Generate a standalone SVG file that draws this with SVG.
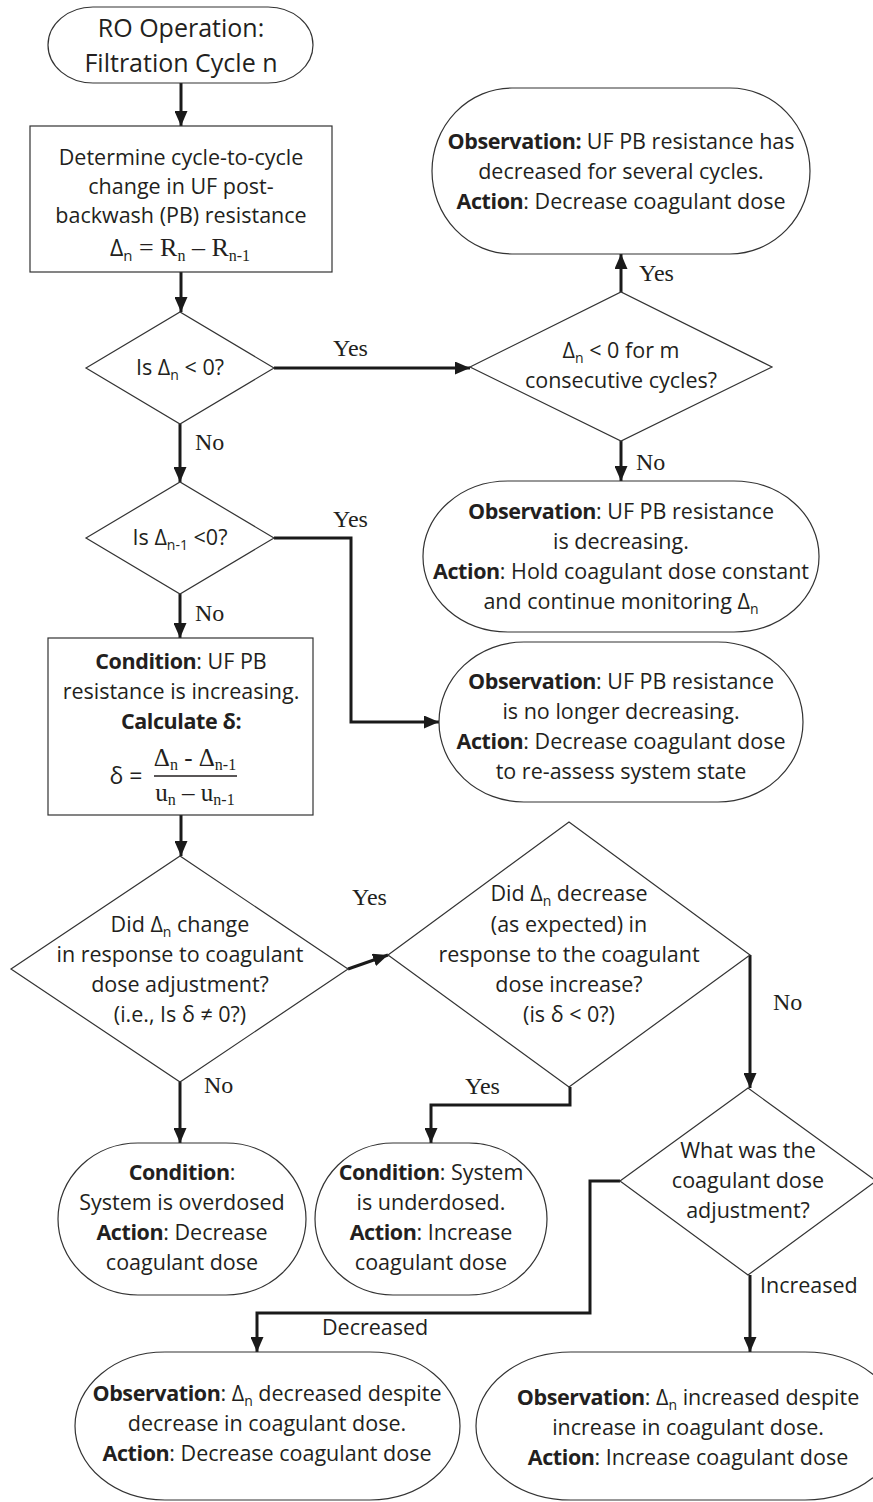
<svg xmlns="http://www.w3.org/2000/svg" width="873" height="1502" viewBox="0 0 873 1502">
<style>
.shape{fill:#fff;stroke:#333;stroke-width:1.2}
.conn{fill:none;stroke:#1a1a1a;stroke-width:3}
.t{font-family:"Open Sans",sans-serif;font-size:21.5px;fill:#231f20;text-anchor:middle}
.b{font-weight:bold;letter-spacing:-0.4px}
.s{font-family:"Liberation Serif",serif}
.lbl{font-family:"Liberation Serif",serif;font-size:24px;fill:#231f20}
.lbls{font-family:"Open Sans",sans-serif;font-size:21.5px;fill:#231f20}
.sub{font-size:14px}
</style>
<defs>
<marker id="ah" viewBox="0 0 15 13" markerWidth="15" markerHeight="13" refX="15" refY="6.5" orient="auto" markerUnits="userSpaceOnUse">
<path d="M0,0 L15,6.5 L0,13 z" fill="#1a1a1a"/>
</marker>
</defs>
<rect width="873" height="1502" fill="#fff"/>

<g id="connectors">
<path class="conn" d="M181,83 L181,126" marker-end="url(#ah)"/>
<path class="conn" d="M181,272 L181,312" marker-end="url(#ah)"/>
<path class="conn" d="M274,368 L470,368" marker-end="url(#ah)"/>
<path class="conn" d="M180,424 L180,482" marker-end="url(#ah)"/>
<path class="conn" d="M274,538 L351,538 L351,722 L439,722" marker-end="url(#ah)"/>
<path class="conn" d="M180,594 L180,638" marker-end="url(#ah)"/>
<path class="conn" d="M621,292 L621,254" marker-end="url(#ah)"/>
<path class="conn" d="M621,441 L621,481" marker-end="url(#ah)"/>
<path class="conn" d="M181,815 L181,856" marker-end="url(#ah)"/>
<path class="conn" d="M348,969 L388,955" marker-end="url(#ah)"/>
<path class="conn" d="M180,1082 L180,1143" marker-end="url(#ah)"/>
<path class="conn" d="M570,1087 L570,1105 L431,1105 L431,1143" marker-end="url(#ah)"/>
<path class="conn" d="M750,955 L750,1088" marker-end="url(#ah)"/>
<path class="conn" d="M620,1181 L590,1181 L590,1313 L257,1313 L257,1352" marker-end="url(#ah)"/>
<path class="conn" d="M750,1275 L750,1352" marker-end="url(#ah)"/>
</g>

<g id="labels">
<text class="lbl" x="333" y="356">Yes</text>
<text class="lbl" x="195" y="450">No</text>
<text class="lbl" x="333" y="527">Yes</text>
<text class="lbl" x="195" y="621">No</text>
<text class="lbl" x="639" y="281">Yes</text>
<text class="lbl" x="636" y="470">No</text>
<text class="lbl" x="352" y="905">Yes</text>
<text class="lbl" x="204" y="1093">No</text>
<text class="lbl" x="465" y="1094">Yes</text>
<text class="lbl" x="773" y="1010">No</text>
<text class="lbls" x="760" y="1293">Increased</text>
<text class="lbls" x="322" y="1335">Decreased</text>
</g>

<g id="start">
<rect class="shape" x="48" y="7" width="265" height="76" rx="45" ry="38"/>
<text class="t" x="181" y="37" style="font-size:25px">RO Operation:</text>
<text class="t" x="181" y="72" style="font-size:25px">Filtration Cycle n</text>
</g>

<g id="determine">
<rect class="shape" x="30" y="126" width="302" height="146"/>
<text class="t" x="181" y="165">Determine cycle-to-cycle</text>
<text class="t" x="181" y="194">change in UF post-</text>
<text class="t" x="181" y="223">backwash (PB) resistance</text>
<text class="t" x="180" y="256" style="font-size:23px">Δ<tspan style="font-size:15px" dy="5">n</tspan><tspan class="s" dy="-5" style="font-size:26px"> = R</tspan><tspan class="s" style="font-size:16px" dy="5">n</tspan><tspan class="s" dy="-5" style="font-size:26px"> – R</tspan><tspan class="s" style="font-size:16px" dy="5">n-1</tspan></text>
</g>

<g id="d1">
<polygon class="shape" points="86,368 180,312 274,368 180,424"/>
<text class="t" x="180" y="375">Is Δ<tspan class="sub" dy="5">n</tspan><tspan dy="-5"> &lt; 0?</tspan></text>
</g>

<g id="d2">
<polygon class="shape" points="470,367 621,292 772,367 621,441"/>
<text class="t" x="621" y="358">Δ<tspan class="sub" dy="5">n</tspan><tspan dy="-5"> &lt; 0 for m</tspan></text>
<text class="t" x="621" y="388">consecutive cycles?</text>
</g>

<g id="obs1">
<rect class="shape" x="432" y="88" width="378" height="166" rx="80" ry="83"/>
<text class="t" x="621" y="149"><tspan class="b">Observation:</tspan> UF PB resistance has</text>
<text class="t" x="621" y="179">decreased for several cycles.</text>
<text class="t" x="621" y="209"><tspan class="b">Action</tspan>: Decrease coagulant dose</text>
</g>

<g id="obs2">
<rect class="shape" x="423" y="481" width="396" height="151" rx="85" ry="75"/>
<text class="t" x="621" y="519"><tspan class="b">Observation</tspan>: UF PB resistance</text>
<text class="t" x="621" y="549">is decreasing.</text>
<text class="t" x="621" y="579"><tspan class="b">Action</tspan>: Hold coagulant dose constant</text>
<text class="t" x="621" y="609">and continue monitoring Δ<tspan class="sub" dy="5">n</tspan></text>
</g>

<g id="d3">
<polygon class="shape" points="86,538 180,482 274,538 180,594"/>
<text class="t" x="180" y="545">Is Δ<tspan class="sub" dy="5">n-1</tspan><tspan dy="-5"> &lt;0?</tspan></text>
</g>

<g id="obs3">
<rect class="shape" x="439" y="642" width="364" height="160" rx="85" ry="80"/>
<text class="t" x="621" y="689"><tspan class="b">Observation</tspan>: UF PB resistance</text>
<text class="t" x="621" y="719">is no longer decreasing.</text>
<text class="t" x="621" y="749"><tspan class="b">Action</tspan>: Decrease coagulant dose</text>
<text class="t" x="621" y="779">to re-assess system state</text>
</g>

<g id="condition">
<rect class="shape" x="48" y="638" width="265" height="177"/>
<text class="t" x="181" y="669"><tspan class="b">Condition</tspan>: UF PB</text>
<text class="t" x="181" y="699">resistance is increasing.</text>
<text class="t" x="181" y="729"><tspan class="b">Calculate δ:</tspan></text>
<text class="t" x="126" y="784" style="font-size:23px">δ =</text>
<text class="t s" x="195" y="766" style="font-size:25px">Δ<tspan style="font-size:16px" dy="4">n</tspan><tspan dy="-4"> - Δ</tspan><tspan style="font-size:16px" dy="4">n-1</tspan></text>
<line x1="154" y1="776" x2="237" y2="776" stroke="#231f20" stroke-width="1.5"/>
<text class="t s" x="195" y="801" style="font-size:25px">u<tspan style="font-size:16px" dy="4">n</tspan><tspan dy="-4"> – u</tspan><tspan style="font-size:16px" dy="4">n-1</tspan></text>
</g>

<g id="d4">
<polygon class="shape" points="11,969 180,856 348,969 180,1082"/>
<text class="t" x="180" y="932">Did Δ<tspan class="sub" dy="5">n</tspan><tspan dy="-5"> change</tspan></text>
<text class="t" x="180" y="962">in response to coagulant</text>
<text class="t" x="180" y="992">dose adjustment?</text>
<text class="t" x="180" y="1022">(i.e., Is δ ≠ 0?)</text>
</g>

<g id="d5">
<polygon class="shape" points="388,955 569,822 750,955 569,1087"/>
<text class="t" x="569" y="901">Did Δ<tspan class="sub" dy="5">n</tspan><tspan dy="-5"> decrease</tspan></text>
<text class="t" x="569" y="932">(as expected) in</text>
<text class="t" x="569" y="962">response to the coagulant</text>
<text class="t" x="569" y="992">dose increase?</text>
<text class="t" x="569" y="1022">(is δ &lt; 0?)</text>
</g>

<g id="overdosed">
<rect class="shape" x="58" y="1143" width="248" height="152" rx="80" ry="76"/>
<text class="t" x="182" y="1180"><tspan class="b">Condition</tspan>:</text>
<text class="t" x="182" y="1210">System is overdosed</text>
<text class="t" x="182" y="1240"><tspan class="b">Action</tspan>: Decrease</text>
<text class="t" x="182" y="1270">coagulant dose</text>
</g>

<g id="underdosed">
<rect class="shape" x="315" y="1143" width="232" height="152" rx="78" ry="76"/>
<text class="t" x="431" y="1180"><tspan class="b">Condition</tspan>: System</text>
<text class="t" x="431" y="1210">is underdosed.</text>
<text class="t" x="431" y="1240"><tspan class="b">Action</tspan>: Increase</text>
<text class="t" x="431" y="1270">coagulant dose</text>
</g>

<g id="d6">
<polygon class="shape" points="620,1181 748,1088 876,1181 748,1275"/>
<text class="t" x="748" y="1158">What was the</text>
<text class="t" x="748" y="1188">coagulant dose</text>
<text class="t" x="748" y="1218">adjustment?</text>
</g>

<g id="obs4">
<rect class="shape" x="75" y="1352" width="385" height="148" rx="90" ry="74"/>
<text class="t" x="267" y="1401"><tspan class="b">Observation</tspan>: Δ<tspan class="sub" dy="5">n</tspan><tspan dy="-5"> decreased despite</tspan></text>
<text class="t" x="267" y="1431">decrease in coagulant dose.</text>
<text class="t" x="267" y="1461"><tspan class="b">Action</tspan>: Decrease coagulant dose</text>
</g>

<g id="obs5">
<rect class="shape" x="476" y="1352" width="424" height="148" rx="95" ry="74"/>
<text class="t" x="688" y="1405"><tspan class="b">Observation</tspan>: Δ<tspan class="sub" dy="5">n</tspan><tspan dy="-5"> increased despite</tspan></text>
<text class="t" x="688" y="1435">increase in coagulant dose.</text>
<text class="t" x="688" y="1465"><tspan class="b">Action</tspan>: Increase coagulant dose</text>
</g>
</svg>
